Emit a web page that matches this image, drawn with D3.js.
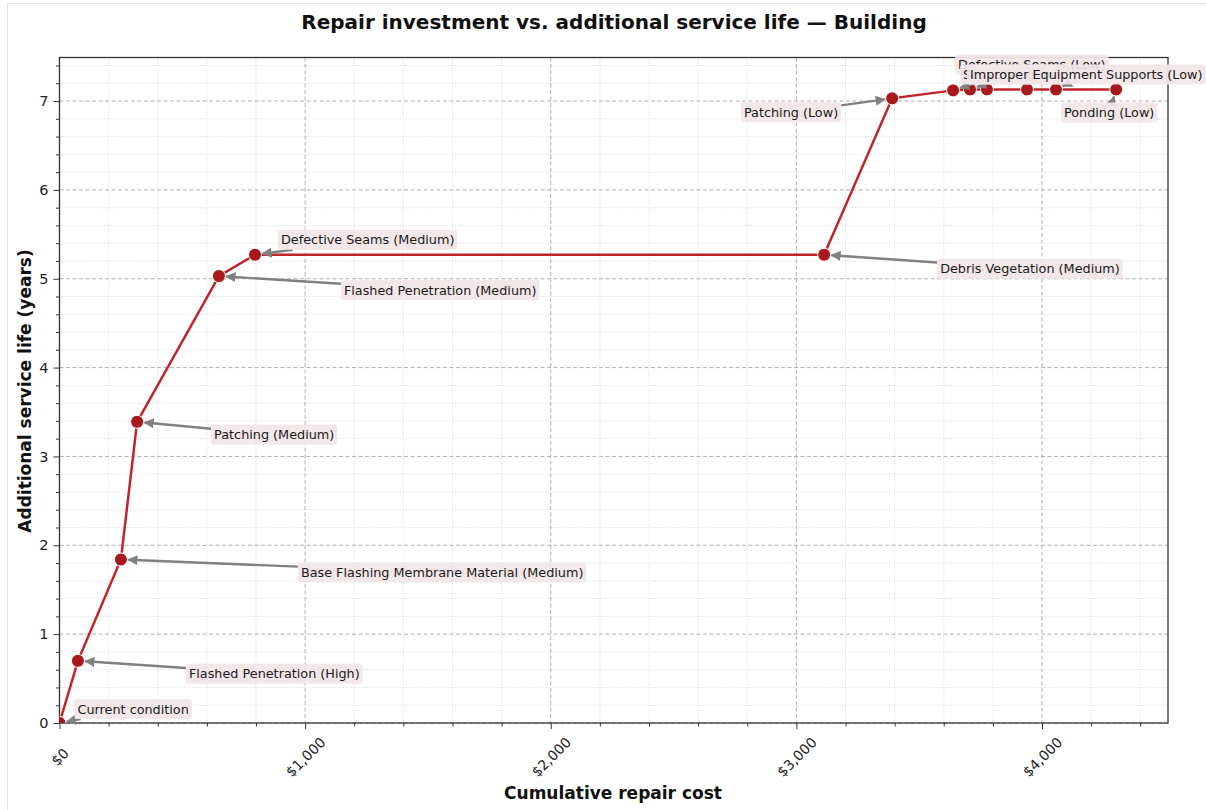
<!DOCTYPE html>
<html>
<head>
<meta charset="utf-8">
<title>Repair investment vs. additional service life</title>
<script src="https://d3js.org/d3.v7.min.js"></script>
<style>
    body { margin: 0; background: #fff; font-family: "DejaVu Sans", sans-serif; }
    .tick text { font-family: "DejaVu Sans", sans-serif; }
</style>
</head>
<body>
<svg id="chart" width="1206" height="810"></svg>
<script>
    // repairs in the order they are applied (cumulative)
    const repairs = [
        "Current condition",
        "Flashed Penetration (High)",
        "Base Flashing Membrane Material (Medium)",
        "Patching (Medium)",
        "Flashed Penetration (Medium)",
        "Defective Seams (Medium)",
        "Debris Vegetation (Medium)",
        "Patching (Low)",
        "Defective Seams (Low)",
        "Scuppers (Low)",
        "",
        "",
        "Improper Equipment Supports (Low)",
        "Ponding (Low)"
    ];
    const cumulativeCost = [0, 75, 250, 316, 649, 796, 3113, 3390, 3638, 3707, 3776, 3939, 4057, 4302];
    const serviceLife = [0, 0.70, 1.84, 3.39, 5.03, 5.27, 5.27, 7.03, 7.12, 7.13, 7.13, 7.13, 7.13, 7.13];

    const xTicks = [0, 1000, 2000, 3000, 4000];
    const yTicks = [0, 1, 2, 3, 4, 5, 6, 7];

    // where each label sits relative to its point (px), and how it is anchored
    const labelOffsets = [
        [18, -14, "start"], [111, 13, "start"], [180, 13, "start"], [77, 13, "start"],
        [125, 14, "start"], [26, -15, "start"], [116, 14, "start"], [-54, 14, "end"],
        [5, -26, "start"], [-7, -15, "start"], null, null, [-86, -15, "start"], [-7, 23, "middle"]
    ];

    const W = 1206, H = 810;
    const margin = { left: 59.5, right: 1168, top: 57.5, bottom: 723 };

    const svg = d3.select("#chart");

    // faint figure border
    svg.append("rect").attr("x", 7.5).attr("y", 3.5).attr("width", W).attr("height", H)
        .attr("fill", "none").attr("stroke", "#e3e3e3");

    const x = d3.scaleLinear().domain([0, 4513]).range([margin.left, margin.right]);
    const y = d3.scaleLinear().domain([0, 7.49]).range([margin.bottom, margin.top]);

    const xMinor = d3.range(0, 4513, 200).filter(v => v % 1000 !== 0);
    const yMinor = d3.range(0, 7.49, 0.2).map(v => +v.toFixed(1)).filter(v => v % 1 !== 0);

    // grid
    const grid = svg.append("g");
    grid.selectAll(".xmin").data(xMinor).enter().append("line")
        .attr("x1", d => x(d)).attr("x2", d => x(d))
        .attr("y1", margin.top).attr("y2", margin.bottom)
        .attr("stroke", "#cfcfcf").attr("stroke-width", 0.8).attr("stroke-dasharray", "1,1.6");
    grid.selectAll(".ymin").data(yMinor).enter().append("line")
        .attr("x1", margin.left).attr("x2", margin.right)
        .attr("y1", d => y(d)).attr("y2", d => y(d))
        .attr("stroke", "#cfcfcf").attr("stroke-width", 0.8).attr("stroke-dasharray", "1,1.6");
    grid.selectAll(".xmaj").data(xTicks).enter().append("line")
        .attr("x1", d => x(d)).attr("x2", d => x(d))
        .attr("y1", margin.top).attr("y2", margin.bottom)
        .attr("stroke", "#a8a8a8").attr("stroke-width", 0.9).attr("stroke-dasharray", "4,2.5");
    grid.selectAll(".ymaj").data(yTicks).enter().append("line")
        .attr("x1", margin.left).attr("x2", margin.right)
        .attr("y1", d => y(d)).attr("y2", d => y(d))
        .attr("stroke", "#a8a8a8").attr("stroke-width", 0.9).attr("stroke-dasharray", "4,2.5");

    // axes
    const xAxis = svg.append("g").attr("transform", `translate(0,${margin.bottom})`)
        .call(d3.axisBottom(x).tickValues(xTicks).tickFormat(d3.format("$,.0f")).tickSize(6).tickPadding(4));
    xAxis.selectAll("text")
        .attr("font-size", 14).attr("fill", "#222")
        .attr("text-anchor", "middle").attr("dy", 0).attr("y", 0)
        .attr("transform", "translate(0,34) rotate(-45)")
        .attr("dominant-baseline", "central");
    svg.append("g").attr("transform", `translate(0,${margin.bottom})`)
        .call(d3.axisBottom(x).tickValues(xMinor).tickFormat("").tickSize(3.5));

    const yAxis = svg.append("g").attr("transform", `translate(${margin.left},0)`)
        .call(d3.axisLeft(y).tickValues(yTicks).tickFormat(d3.format("d")).tickSize(6).tickPadding(5));
    yAxis.selectAll("text").attr("font-size", 14.5).attr("fill", "#222");
    svg.append("g").attr("transform", `translate(${margin.left},0)`)
        .call(d3.axisLeft(y).tickValues(yMinor).tickFormat("").tickSize(3.5));
    svg.selectAll(".domain").remove();
    svg.selectAll(".tick line").attr("stroke", "#333").attr("stroke-width", 1);

    // frame
    svg.append("rect").attr("x", margin.left).attr("y", margin.top)
        .attr("width", margin.right - margin.left).attr("height", margin.bottom - margin.top)
        .attr("fill", "none").attr("stroke", "#333").attr("stroke-width", 1.3);

    // line + points
    svg.append("clipPath").attr("id", "plotClip").append("rect")
        .attr("x", margin.left).attr("y", margin.top)
        .attr("width", margin.right - margin.left).attr("height", margin.bottom - margin.top);

    const pts = cumulativeCost.map((c, i) => ({ cost: c, life: serviceLife[i], name: repairs[i], off: labelOffsets[i] }));

    const plot = svg.append("g").attr("clip-path", "url(#plotClip)");
    plot.append("path").datum(pts)
        .attr("d", d3.line().x(d => x(d.cost)).y(d => y(d.life)))
        .attr("fill", "none").attr("stroke", "#bf2528").attr("stroke-width", 2.5);
    plot.selectAll("circle").data(pts).enter().append("circle")
        .attr("cx", d => x(d.cost)).attr("cy", d => y(d.life)).attr("r", 6.5)
        .attr("fill", "#a8181c").attr("stroke", "#fff").attr("stroke-width", 1);

    // arrowhead
    svg.append("defs").append("marker").attr("id", "arr")
        .attr("viewBox", "0 0 10 10").attr("refX", 9).attr("refY", 5)
        .attr("markerWidth", 4.2).attr("markerHeight", 4.2).attr("orient", "auto")
        .append("path").attr("d", "M0,0 L10,5 L0,10 z").attr("fill", "#808080");

    // annotations
    const ann = svg.append("g");
    pts.forEach(d => {
        if (!d.off || !d.name) return;
        const px = x(d.cost), py = y(d.life);
        const g = ann.append("g");
        const t = g.append("text").text(d.name)
            .attr("x", px + d.off[0]).attr("y", py + d.off[1])
            .attr("text-anchor", d.off[2]).attr("dominant-baseline", "central")
            .attr("font-size", 12.8).attr("fill", "#1a1a1a");
        const bb = t.node().getBBox();
        const pad = 3;
        const bx = bb.x - pad, by = bb.y - pad + 0.5, bw = bb.width + 2 * pad, bh = bb.height + 2 * pad - 1;
        // arrow from box centre to point, clipped at box edge
        const cx = bx + bw / 2, cy = by + bh / 2;
        const dx = px - cx, dy = py - cy;
        const tEdge = Math.min(dx !== 0 ? (bw / 2) / Math.abs(dx) : Infinity, dy !== 0 ? (bh / 2) / Math.abs(dy) : Infinity);
        const len = Math.hypot(dx, dy);
        const sx = cx + dx * tEdge, sy = cy + dy * tEdge;
        const shrink = 7.5 / len;
        g.insert("line", "text")
            .attr("x1", sx).attr("y1", sy)
            .attr("x2", px - dx * shrink).attr("y2", py - dy * shrink)
            .attr("stroke", "#808080").attr("stroke-width", 2.4).attr("marker-end", "url(#arr)");
        g.insert("rect", "text")
            .attr("x", bx).attr("y", by).attr("width", bw).attr("height", bh)
            .attr("rx", 3).attr("fill", "#f2e5e7").attr("fill-opacity", 0.92);
    });

    // titles
    svg.append("text").attr("x", 614).attr("y", 22).attr("text-anchor", "middle")
        .attr("dominant-baseline", "central")
        .attr("font-size", 20).attr("font-weight", "bold").attr("fill", "#111")
        .text("Repair investment vs. additional service life — Building");
    svg.append("text").attr("x", 613).attr("y", 793).attr("text-anchor", "middle")
        .attr("dominant-baseline", "central")
        .attr("font-size", 17).attr("font-weight", "bold").attr("fill", "#111")
        .text("Cumulative repair cost");
    svg.append("text").attr("transform", "translate(25,391) rotate(-90)").attr("text-anchor", "middle")
        .attr("dominant-baseline", "central")
        .attr("font-size", 17).attr("font-weight", "bold").attr("fill", "#111")
        .text("Additional service life (years)");
</script>
</body>
</html>
